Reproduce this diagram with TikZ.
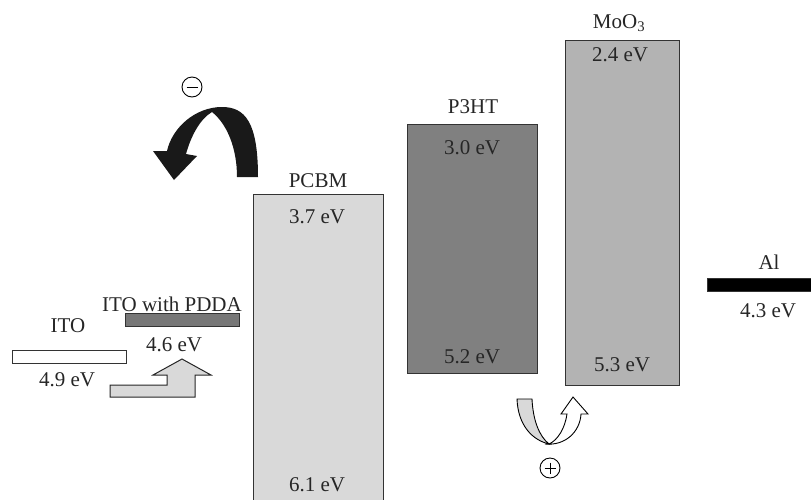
\documentclass[tikz,border=0pt]{standalone}
\usepackage{fontspec}
\setmainfont{Liberation Serif}
\usetikzlibrary{calc}
\begin{document}
\begin{tikzpicture}[x=1pt,y=-1pt,
  lbl/.style={inner sep=0pt,text=black!85,font=\fontsize{21}{24}\selectfont},
  band/.style={draw=black!80,line width=1.1pt,anchor=north west,inner sep=0pt},
  circ/.style={draw=black,line width=0.9pt,circle,minimum size=20pt,inner sep=0pt}]
\useasboundingbox (0,0) rectangle (811,499);
\clip (0,0) rectangle (811,499);
\definecolor{lightg}{HTML}{D9D9D9}
\definecolor{midg}{HTML}{B3B3B3}
\definecolor{darkg}{HTML}{808080}
\definecolor{pdda}{HTML}{777777}
% level boxes
\node[band,fill=lightg,minimum width=130pt,minimum height=320pt] (pcbm) at (253,194) {};
\node[band,fill=darkg,minimum width=130pt,minimum height=249pt] (p3ht) at (407,124) {};
\node[band,fill=midg,minimum width=114pt,minimum height=345pt] (moo) at (565,40) {};
\node[band,fill=black,minimum width=120pt,minimum height=13pt] (al) at (707,278) {};
\node[band,fill=white,minimum width=114pt,minimum height=13pt] (ito) at (12,350) {};
\node[band,fill=pdda,minimum width=114pt,minimum height=13pt] (itop) at (125,313) {};
% labels
\node[lbl] (tpcbm) at (318,181) {PCBM};
\node[lbl] (e37) at (317,217) {3.7 eV};
\node[lbl] (e61) at (317,485) {6.1 eV};
\node[lbl] (tp3ht) at (473,107) {P3HT};
\node[lbl] (e30) at (472,148) {3.0 eV};
\node[lbl] (e52) at (472,357) {5.2 eV};
\node[lbl,anchor=base] (tmoo) at (619,28) {MoO\textsubscript{3}};
\node[lbl] (e24) at (620,55) {2.4 eV};
\node[lbl] (e53) at (622,365) {5.3 eV};
\node[lbl] (tal) at (769,262) {Al};
\node[lbl] (e43) at (768,311) {4.3 eV};
\node[lbl] (tito) at (68,326) {ITO};
\node[lbl] (tpdda) at (172,304) {ITO with PDDA};
\node[lbl] (e46) at (174,345) {4.6 eV};
\node[lbl] (e49) at (67,380) {4.9 eV};
% charge symbols
\node[circ] (minus) at (192,87) {};
\draw[line width=1pt] ($(minus.center)+(-5.5,0)$) -- ($(minus.center)+(5.5,0)$);
\node[circ] (plus) at (550,468) {};
\draw[line width=1pt] ($(plus.center)+(-5.5,0)$) -- ($(plus.center)+(5.5,0)$)
  ($(plus.center)+(0,-5.5)$) -- ($(plus.center)+(0,5.5)$);
% ITO step arrow
\draw[fill=lightg,draw=black!85,line width=1pt]
  (110,397) -- (195,397) -- (195,375) -- (211,375) -- (182,359) -- (153,375)
  -- (167,375) -- (167,385) -- (110,385) -- cycle;
% black curved arrow
\fill[black!90]
  (258,177) .. controls (258,122) and (245,107) .. (222,107)
  .. controls (195,107) and (172,128) .. (167,151)
  -- (153,151) -- (174,180) -- (197,156) -- (186,154)
  .. controls (191,136) and (200,119) .. (212,112)
  .. controls (227,124) and (237,148) .. (237,177) -- cycle;
% bottom U arrows
\draw[fill=lightg,draw=black,line width=0.9pt]
  (517,399) -- (532,399) .. controls (533,420) and (539,436) .. (549,444)
  .. controls (532,440) and (518,425) .. (517,399) -- cycle;
\draw[fill=white,draw=black,line width=0.9pt]
  (545,444) .. controls (565,446) and (580,432) .. (581,414) -- (588,414)
  -- (573,397) -- (561,414) -- (567,414)
  .. controls (565,428) and (558,440) .. (549,444);
\end{tikzpicture}
\end{document}
